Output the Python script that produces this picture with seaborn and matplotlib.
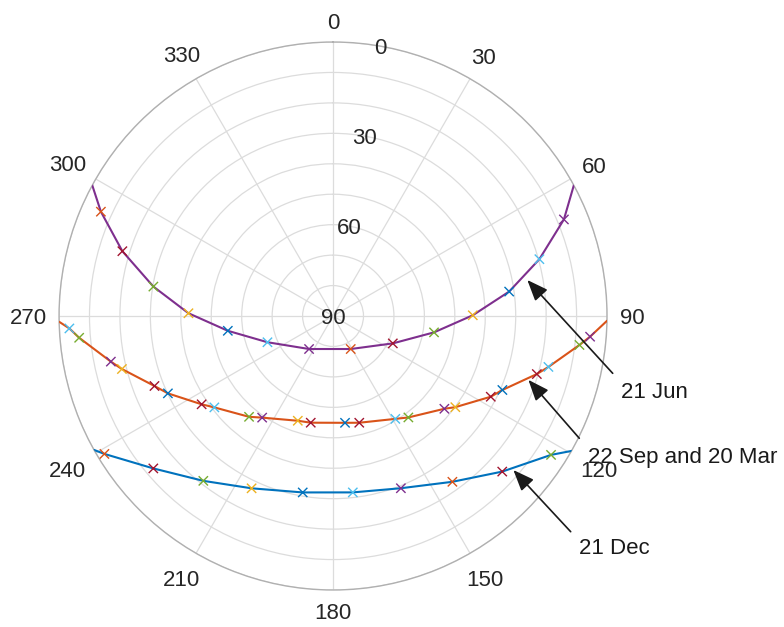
import numpy as np
import pandas as pd
import matplotlib
matplotlib.use("Agg")
import matplotlib.pyplot as plt
import seaborn as sns

# ---------------- data (azimuth deg, elevation deg, marker colour key) ----------------
jun_az = [67.3, 74.6, 82.1, 89.7, 99.2, 114.6, 151.8, 216.0, 248.2, 262.0, 271.1, 279.3, 287.1, 294.2]
jun_el = [7.8, 19.7, 31.6, 44.1, 56.4, 68.4, 77.7, 76.6, 66.8, 55.1, 42.5, 30.2, 17.6, 6.4]
jun_col = ["purple", "lightblue", "blue", "yellow", "green", "red", "orange",
           "purple", "lightblue", "blue", "yellow", "green", "red", "orange"]
jun_rise_set = [61.5, 298.5]

eq_az = [94.6, 96.7, 103.3, 105.9, 113.6, 117.1, 126.7, 129.8, 143.4, 148.8, 166.2, 173.6,
         191.8, 198.6, 214.9, 219.8, 232.4, 236.1, 244.9, 248.6, 255.9, 258.4, 265.1, 267.3]
eq_el = [5.3, 8.5, 17.3, 20.4, 29.3, 31.8, 39.9, 42.4, 48.5, 50.5, 53.9, 54.7,
         54.2, 53.7, 49.3, 46.9, 40.8, 38.0, 30.1, 27.0, 18.5, 15.5, 6.3, 3.3]
eq_col = ["purple", "green", "lightblue", "red", "blue", "red", "yellow", "purple", "green",
          "lightblue", "red", "blue", "red", "yellow", "purple", "green", "lightblue", "red",
          "blue", "red", "yellow", "purple", "green", "lightblue"]
eq_rise_set = [91.0, 268.8]

dec_az = [122.5, 132.6, 144.25, 158.5, 173.6, 189.75, 205.3, 218.2, 229.7, 238.9]
dec_el = [5.1, 14.5, 22.9, 29.2, 31.7, 31.2, 27.4, 21.1, 12.6, 2.3]
dec_col = ["green", "red", "orange", "purple", "lightblue", "blue", "yellow", "green", "red", "orange"]
dec_rise_set = [119.5, 240.75]

curve_names = ["21 Jun", "22 Sep and 20 Mar", "21 Dec"]
curve_colors = ["#7E2F8E", "#D95319", "#0072BD"]

# annotation tips (azimuth, elevation)
tip_az = [79.5, 108.1, 130.5]
tip_el = [25.1, 22.5, 12.1]

theta_ticks = list(range(0, 360, 30))
r_ticks = list(range(0, 91, 10))
r_labels = ["0", "30", "60", "90"]

palette = {"blue": "#0072BD", "orange": "#D95319", "yellow": "#EDB120", "purple": "#7E2F8E",
           "green": "#77AC30", "lightblue": "#4DBEEE", "red": "#A2142F"}

# ---------------- figure ----------------
sns.set_theme(style="white")
plt.rcParams["font.family"] = ["Liberation Sans", "DejaVu Sans"]

fig = plt.figure(figsize=(7.84, 6.27), dpi=100)
ax = fig.add_axes([0.0753, 0.059, 0.699, 0.874], projection="polar")
ax.set_theta_zero_location("N")
ax.set_theta_direction(-1)
ax.set_rlim(90, 0)

curves = [(jun_az, jun_el, jun_col, jun_rise_set),
          (eq_az, eq_el, eq_col, eq_rise_set),
          (dec_az, dec_el, dec_col, dec_rise_set)]

for (az, el, col, rs), lc in zip(curves, curve_colors):
    line_df = pd.DataFrame({
        "theta": np.deg2rad(list(az) + list(rs)),
        "elev": list(el) + [0.0, 0.0],
    })
    sns.lineplot(data=line_df, x="theta", y="elev", ax=ax, color=lc, linewidth=1.5,
                 sort=True, estimator=None, zorder=3)

for az, el, col, rs in curves:
    pts = pd.DataFrame({"theta": np.deg2rad(az), "elev": el, "c": col})
    sns.scatterplot(data=pts, x="theta", y="elev", hue="c", palette=palette, marker="x",
                    s=45, linewidth=1.0, legend=False, ax=ax, zorder=4)

ax.set_xlabel("")
ax.set_ylabel("")

# grids
ax.set_xticks(np.deg2rad(theta_ticks))
ax.set_xticklabels([])
ax.set_yticks(r_ticks)
ax.set_yticklabels([])
ax.grid(True, color="#dcdcdc", linewidth=0.9)
ax.spines["polar"].set_color("#b0b0b0")
ax.spines["polar"].set_linewidth(1.0)

# theta labels placed just outside the rim (offset depends on label extent along the direction)
R_PX = 274.0
for t in theta_ticks:
    s = str(t)
    a = np.deg2rad(t)
    half_w = 6.0 * len(s)
    half_h = 8.0
    d_px = 287.0 + abs(np.sin(a)) * half_w + abs(np.cos(a)) * half_h
    r_data = -(d_px - R_PX) * 90.0 / R_PX
    ax.text(a, r_data, s, ha="center", va="center_baseline", fontsize=16,
            color="#262626", clip_on=False)

# radial labels
for lab in r_labels:
    ax.text(np.deg2rad(10), float(lab), lab, ha="center", va="center_baseline",
            fontsize=16, color="#262626", zorder=5)

# annotations
tails = [(0.7815, 0.4046), (0.7389, 0.3010), (0.7279, 0.1520)]
texts = [(0.7921, 0.378), (0.750, 0.2743), (0.7385, 0.1292)]
for name, ta, te, tail, tx in zip(curve_names, tip_az, tip_el, tails, texts):
    ax.annotate("", xy=(np.deg2rad(ta), te), xycoords="data",
                xytext=tail, textcoords="figure fraction",
                arrowprops=dict(arrowstyle="-|>,head_length=0.8,head_width=0.32",
                                color="#1a1a1a", lw=1.2, shrinkA=0, shrinkB=0),
                fontsize=16, annotation_clip=False, zorder=6)
    fig.text(tx[0], tx[1], name, ha="left", va="center_baseline", fontsize=16, color="#1a1a1a")

fig.savefig("out.png", dpi=100)
